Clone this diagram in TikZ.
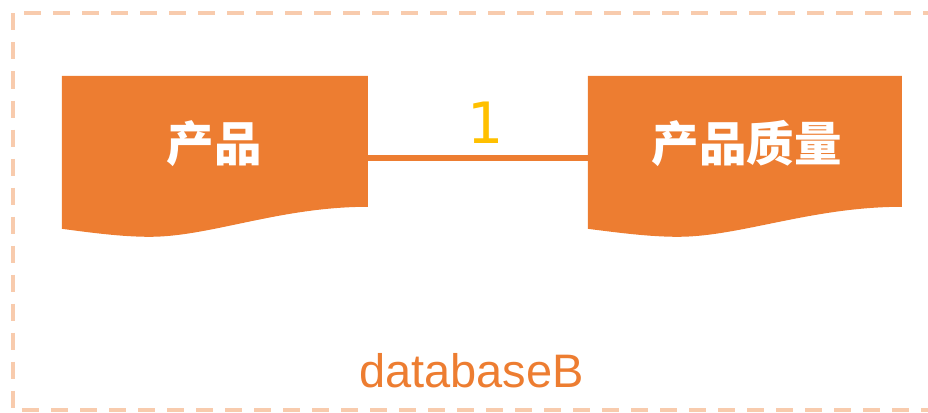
\documentclass[tikz,border=0pt]{standalone}
\usepackage{fontspec}
\setmainfont{Liberation Sans}
\newfontfamily\cjk{Noto Sans CJK SC}
\newfontfamily\dejavu{DejaVu Sans}
\definecolor{accent}{HTML}{ED7D31}
\definecolor{lightaccent}{HTML}{F8CBAD}
\definecolor{gold}{HTML}{FFC000}
\tikzset{
  docbox/.style={minimum width=306pt, minimum height=153pt, inner sep=0pt, draw=none},
  wavefill/.style={fill=accent, draw=none},
  boxlabel/.style={text=white, font=\cjk\bfseries\fontsize{47.5}{50}\selectfont, inner sep=0pt},
  conn/.style={draw=accent, line width=5.5pt},
  frame/.style={draw=lightaccent, line width=4pt, dash pattern=on 17pt off 12pt},
}
\begin{document}
\begin{tikzpicture}[x=1pt,y=-1pt]
\useasboundingbox (0,0) rectangle (928,412);
% dashed container
\draw[frame] (940,13) -- (12.5,13) -- (12.5,410) -- (940,410);
% boxes
\node[docbox] (a) at (215,152.5) {};
\node[docbox, minimum width=314pt] (b) at (745,152.5) {};
\begin{scope}[shift={(a.north west)}]
  \fill[wavefill] (0,0) -- (306,0) -- (306,131) .. controls (218,131) and (148,161) .. (88,161) .. controls (60,161) and (30,157) .. (0,153) -- cycle;
\end{scope}
\begin{scope}[shift={(b.north west)}]
  \fill[wavefill] (0,0) -- (314,0) -- (314,131) .. controls (224,131) and (152,161) .. (90,161) .. controls (62,161) and (31,157) .. (0,153) -- cycle;
\end{scope}
\node[boxlabel] (ta) at (214,143.5) {产品};
\node[boxlabel] (tb) at (746.5,143.5) {产品质量};
% connector
\draw[conn] ([yshift=-5.5pt]a.east) -- ([yshift=-5.5pt]b.west);
\node[anchor=base, text=gold, font=\dejavu\fontsize{57}{60}\selectfont, inner sep=0pt] (lone) at (486,143) {1};
\node[anchor=base, text=accent, font=\fontsize{47}{50}\selectfont, inner sep=0pt] (db) at (471.5,387) {databaseB};
\end{tikzpicture}
\end{document}
